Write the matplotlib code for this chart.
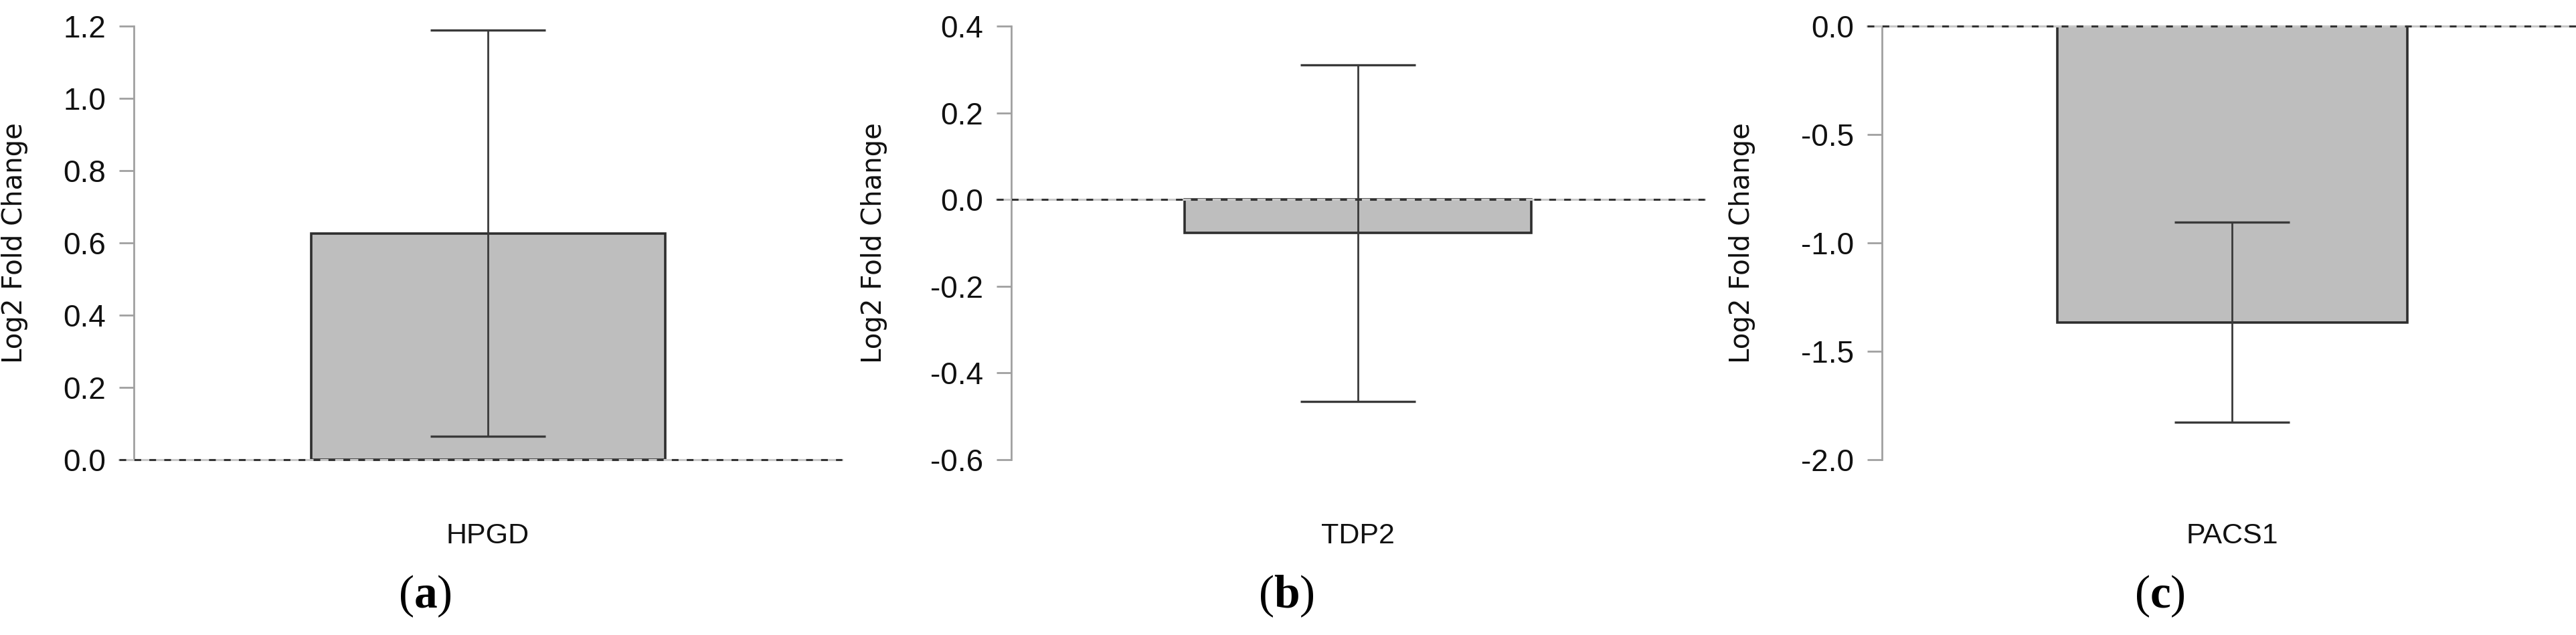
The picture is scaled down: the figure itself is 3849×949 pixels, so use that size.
import matplotlib
matplotlib.use("Agg")
import matplotlib.pyplot as plt
import numpy as np

genes = ["HPGD", "TDP2", "PACS1"]
lfc = [0.626, -0.077, -1.366]
err = [0.562, 0.388, 0.462]
ylims = [(0.0, 1.2), (-0.6, 0.4), (-2.0, 0.0)]
yticks = [np.arange(0, 1.21, 0.2), np.arange(-0.6, 0.41, 0.2), np.arange(-2.0, 0.01, 0.5)]
panel_tags = ["a", "b", "c"]

plt.rcParams["font.family"] = ["Liberation Sans", "DejaVu Sans"]
plt.rcParams["axes.unicode_minus"] = False
plt.rcParams["mathtext.fontset"] = "custom"
plt.rcParams["mathtext.bf"] = "Liberation Serif:bold"
plt.rcParams["mathtext.rm"] = "Liberation Serif"

fig = plt.figure(figsize=(38.49, 9.49), dpi=100)

# axes boxes in pixels (left, width), shared vertical range
boxes = [(200, 1058), (1511, 1036), (2812, 1046)]
ylab_off = [158, 185, 189]
tag_x = [635, 1922, 3227]
W, H = 3849, 949
bottom = (H - 687) / H
height = (687 - 39) / H

for i in range(3):
    l, w = boxes[i]
    ax = fig.add_axes([l / W, bottom, w / W, height])
    ax.bar([0], [lfc[i]], width=1.0, color="#bebebe", edgecolor="#2e2e2e",
           linewidth=2.6, zorder=2)
    ax.errorbar([0], [lfc[i]], yerr=[err[i]], fmt="none", ecolor="#3a3a3a",
                elinewidth=2.0, capsize=62, capthick=2.4, zorder=3)
    # zero line: light grey base with dark dashes on top
    x0 = -22 / w
    ax.axhline(0, xmin=x0, xmax=1.0, color="#c8c8c8", linewidth=2.2,
               clip_on=False, zorder=4)
    ax.axhline(0, xmin=x0, xmax=1.0, color="#333333", linestyle=(0, (3.3, 4.0)),
               linewidth=2.2, clip_on=False, zorder=5)
    ax.set_xlim(-1, 1)
    ax.set_ylim(*ylims[i])
    ax.set_yticks(yticks[i])
    ax.set_yticklabels(["%.1f" % v for v in yticks[i]])
    ax.set_xticks([0])
    ax.set_xticklabels([genes[i]])
    for s in ["top", "right", "bottom"]:
        ax.spines[s].set_visible(False)
    ax.spines["left"].set_color("#a0a0a0")
    ax.spines["left"].set_linewidth(2.0)
    ax.tick_params(axis="y", length=16, width=2.0, color="#a0a0a0",
                   labelsize=33, pad=14, labelcolor="#111111")
    ax.tick_params(axis="x", length=0, labelsize=31, pad=68, labelcolor="#111111")
    ax.set_ylabel("Log2 Fold Change", fontsize=29, color="#111111", family="DejaVu Sans")
    ax.yaxis.set_label_coords(-ylab_off[i] / w, 0.5)
    fig.text(tag_x[i] / W, 1 - 891 / H, "(" + r"$\mathbf{%s}$" % panel_tags[i] + ")",
             family="Liberation Serif", fontsize=50, ha="center", va="center")

fig.savefig("out.png", dpi=100)
